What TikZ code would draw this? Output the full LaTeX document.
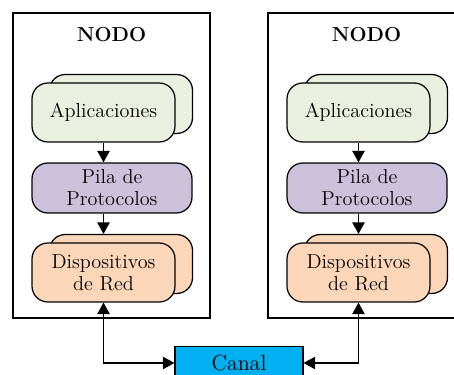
\documentclass[tikz,border=0pt]{standalone}
\usetikzlibrary{arrows.meta,positioning}

\definecolor{verdeapl}{RGB}{233,240,223}
\definecolor{lilapila}{RGB}{204,193,218}
\definecolor{naranjadisp}{RGB}{251,214,184}
\definecolor{azulcanal}{RGB}{0,176,240}

\begin{document}
\begin{tikzpicture}[
  x=0.02cm,y=-0.02cm,
  >={Triangle[width=7pt,length=6.5pt]},
  every node/.style={font=\fontsize{11.5}{12.5}\selectfont,align=center},
  nodo/.style={draw,line width=0.9pt,minimum width=3.94cm,minimum height=6.1cm},
  capa/.style={draw,rounded corners=9pt,line width=0.7pt,minimum width=2.86cm,minimum height=1.18cm},
  pila/.style={draw,rounded corners=9pt,line width=0.7pt,fill=lilapila,minimum width=3.2cm,minimum height=1cm},
  arc/.style={->,line width=0.7pt}
]
\useasboundingbox (0,0) rectangle (454,375);
\clip (0,0) rectangle (454,375);
% nodo izquierdo
\node[nodo] (nodoA) at (111.5,165.5) {};
\node[font=\fontsize{11.5}{12.5}\selectfont\bfseries] (tA) at (111.5,35) {NODO};
\node[capa,fill=verdeapl] (aplAb) at (121,104) {};
\node[capa,fill=verdeapl] (aplA) at (103.5,112.5) {Aplicaciones};
\node[pila] (pilaA) at (112,188) {Pila de\\Protocolos};
\node[capa,fill=naranjadisp] (dispAb) at (121,264) {};
\node[capa,fill=naranjadisp] (dispA) at (103.5,272.5) {Dispositivos\\de Red};
\draw[arc] (aplA.south) -- (aplA.south |- pilaA.north);
\draw[arc] (dispA.north |- pilaA.south) -- (dispA.north |- dispAb.north);
% nodo derecho
\node[nodo] (nodoB) at (366.5,165.5) {};
\node[font=\fontsize{11.5}{12.5}\selectfont\bfseries] (tB) at (366.5,35) {NODO};
\node[capa,fill=verdeapl] (aplBb) at (376,104) {};
\node[capa,fill=verdeapl] (aplB) at (358.5,112.5) {Aplicaciones};
\node[pila] (pilaB) at (367,188) {Pila de\\Protocolos};
\node[capa,fill=naranjadisp] (dispBb) at (376,264) {};
\node[capa,fill=naranjadisp] (dispB) at (358.5,272.5) {Dispositivos\\de Red};
\draw[arc] (aplB.south) -- (aplB.south |- pilaB.north);
\draw[arc] (dispB.north |- pilaB.south) -- (dispB.north |- dispBb.north);
% canal
\node[draw,fill=azulcanal,line width=0.7pt,minimum width=2.56cm,minimum height=0.66cm,font=\fontsize{12.5}{14}\selectfont] (canal) at (239,363) {Canal};
\draw[<->,line width=0.7pt] (dispA.south) |- (canal.west);
\draw[<->,line width=0.7pt] (dispB.south) |- (canal.east);
\end{tikzpicture}
\end{document}
